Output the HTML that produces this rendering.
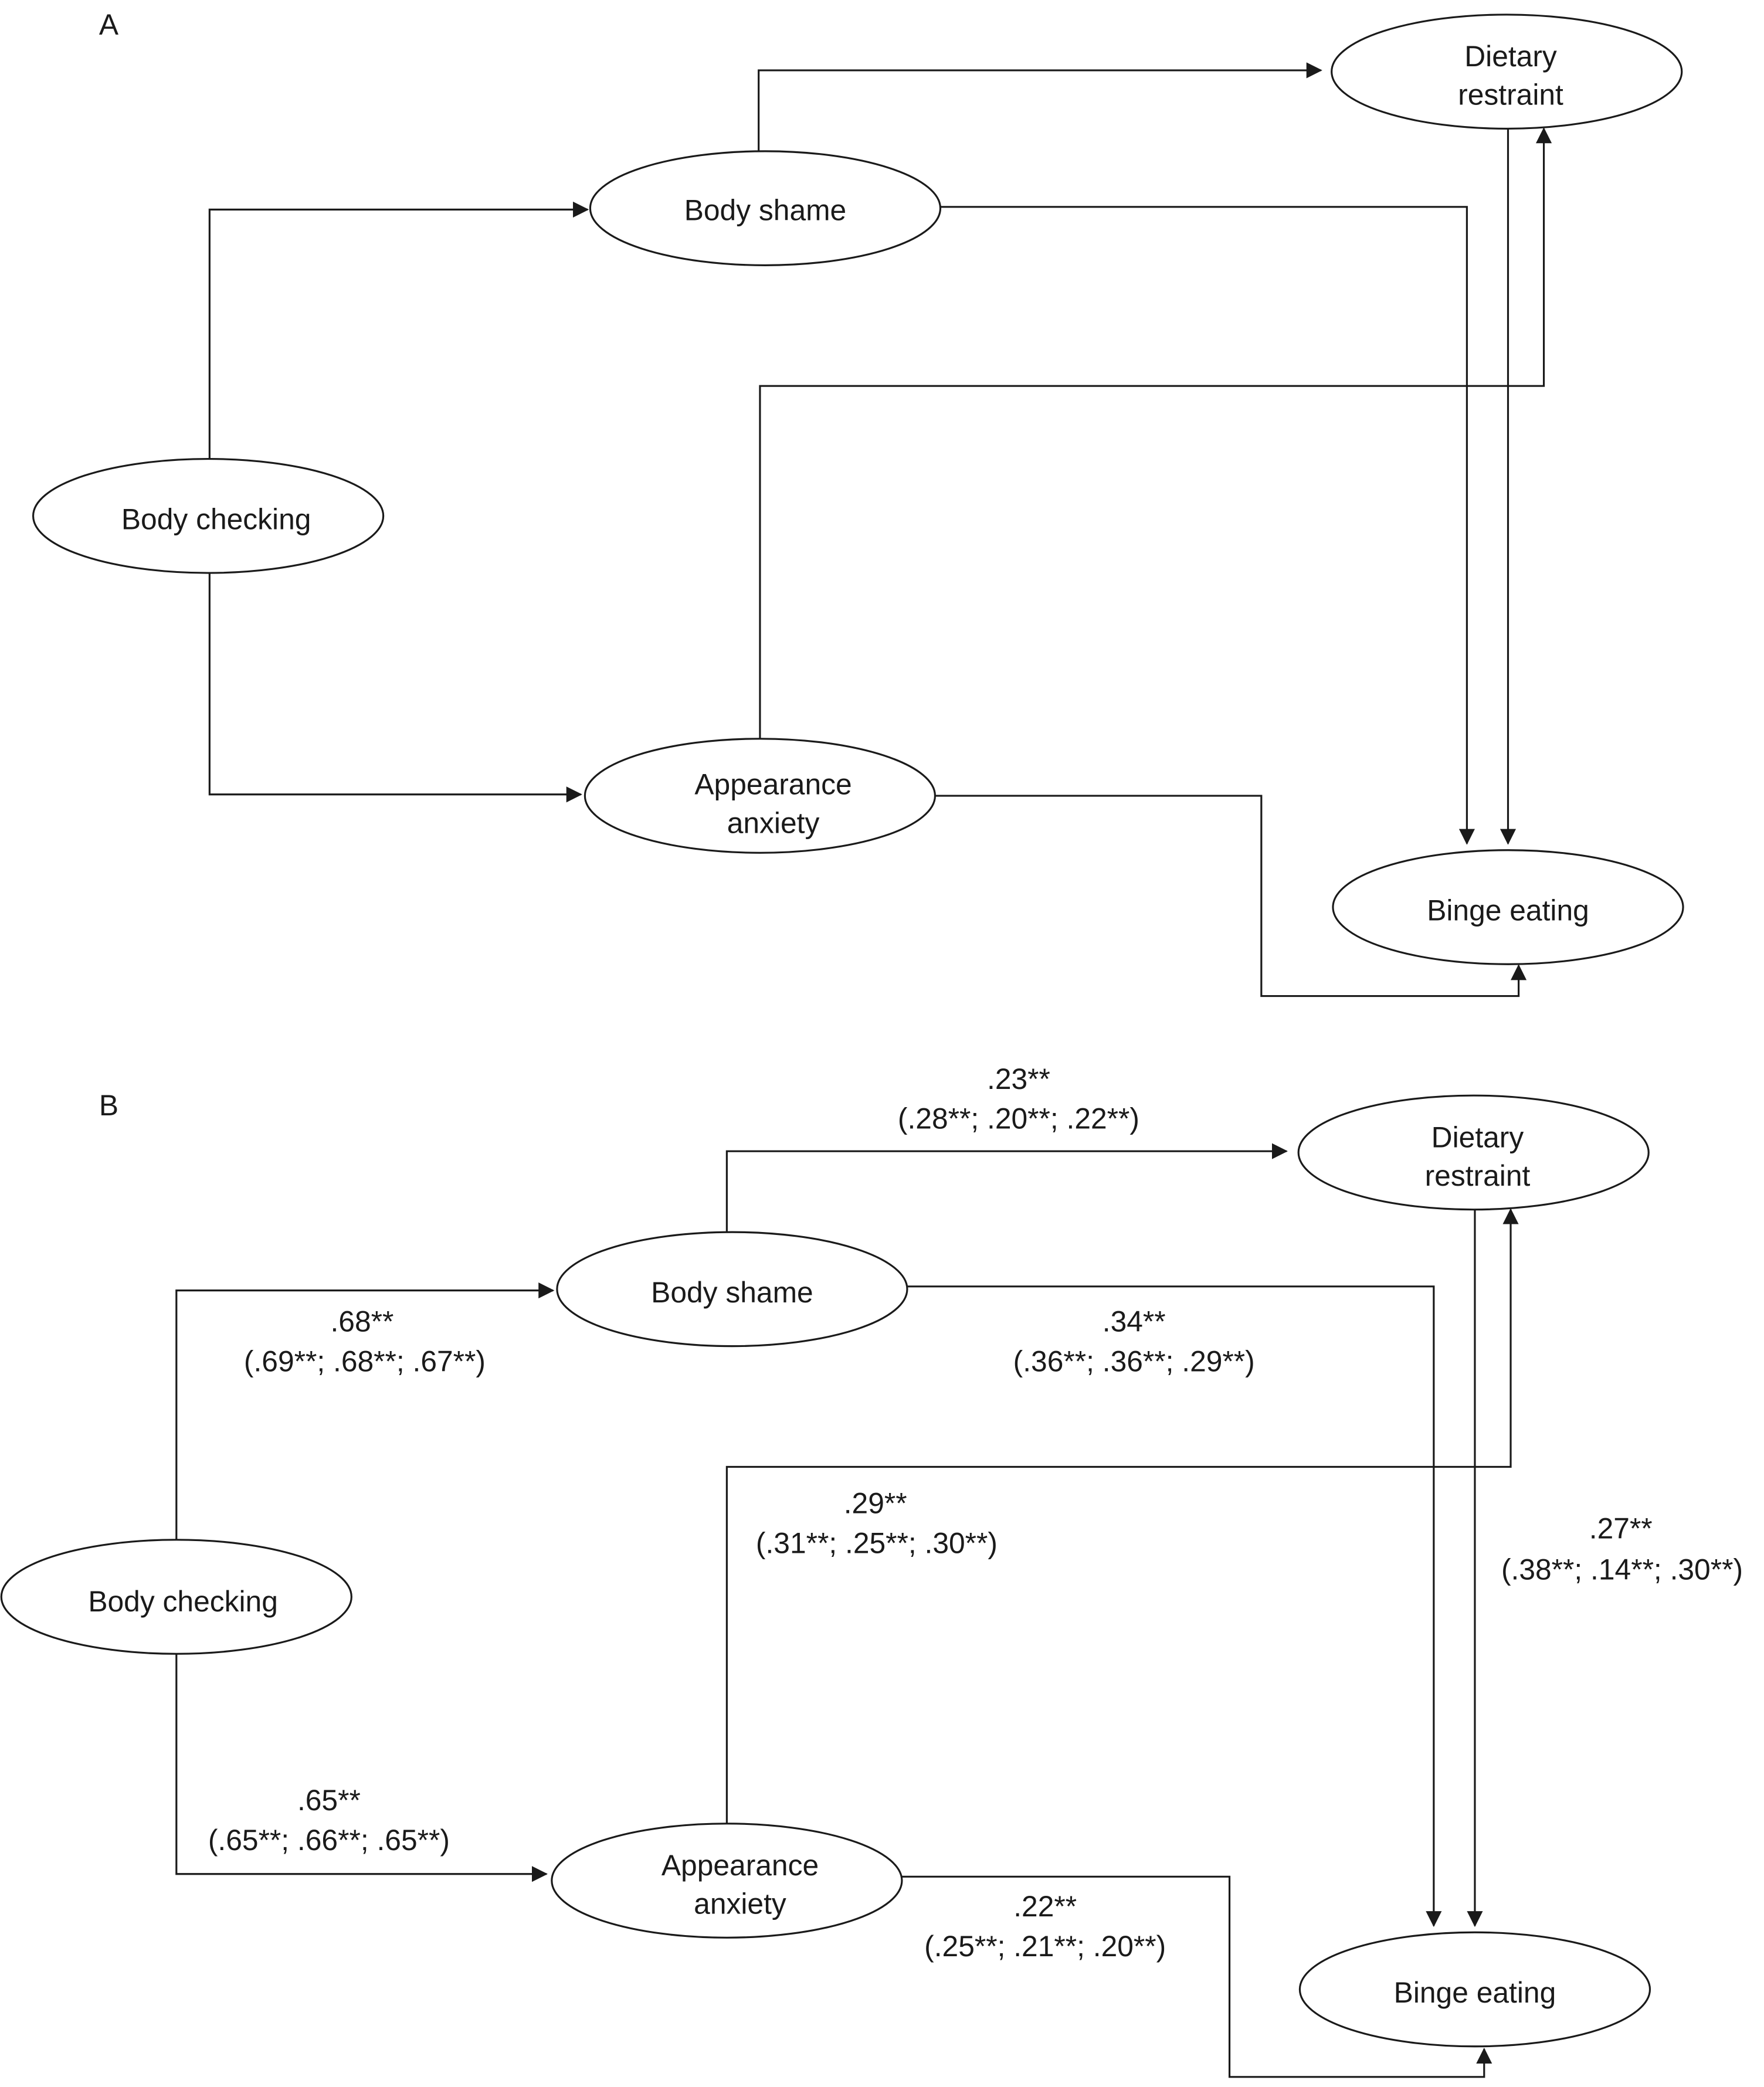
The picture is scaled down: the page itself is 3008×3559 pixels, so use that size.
<!DOCTYPE html>
<html><head><meta charset="utf-8"><style>
html,body{margin:0;padding:0;background:#fff;}
svg{display:block;}
text{font-family:"Liberation Sans",sans-serif;font-size:22px;fill:#1a1a1a;text-anchor:middle;}
</style></head><body>
<svg width="3008" height="3559" viewBox="0 0 1330 1573.6" xmlns="http://www.w3.org/2000/svg">
<defs><marker id="a" markerWidth="12" markerHeight="12" refX="11" refY="6" orient="auto" markerUnits="userSpaceOnUse"><path d="M0,0 L12,6 L0,12 z" fill="#1a1a1a"/></marker></defs>
<rect width="1330" height="1574" fill="#fff"/>
<g fill="none" stroke="#1a1a1a" stroke-width="1.4">
<!-- Panel A -->
<ellipse cx="1136" cy="54" rx="132" ry="43"/>
<ellipse cx="577" cy="157" rx="132" ry="43"/>
<ellipse cx="157" cy="389" rx="132" ry="43"/>
<ellipse cx="573" cy="600" rx="132" ry="43"/>
<ellipse cx="1137" cy="684" rx="132" ry="43"/>
<polyline points="572,114 572,53 996,53" marker-end="url(#a)"/>
<polyline points="158,346 158,158 443,158" marker-end="url(#a)"/>
<polyline points="158,432 158,599 438,599" marker-end="url(#a)"/>
<polyline points="709,156 1106,156 1106,636" marker-end="url(#a)"/>
<polyline points="1137,97 1137,636" marker-end="url(#a)"/>
<polyline points="573,557 573,291 1164,291 1164,97" marker-end="url(#a)"/>
<polyline points="705,600 951,600 951,751 1145,751 1145,728" marker-end="url(#a)"/>
<!-- Panel B -->
<ellipse cx="1111" cy="869" rx="132" ry="43"/>
<ellipse cx="552" cy="972" rx="132" ry="43"/>
<ellipse cx="133" cy="1204" rx="132" ry="43"/>
<ellipse cx="548" cy="1418" rx="132" ry="43"/>
<ellipse cx="1112" cy="1500" rx="132" ry="43"/>
<polyline points="548,929 548,868 970,868" marker-end="url(#a)"/>
<polyline points="133,1161 133,973 417,973" marker-end="url(#a)"/>
<polyline points="133,1247 133,1413 412,1413" marker-end="url(#a)"/>
<polyline points="684,970 1081,970 1081,1452" marker-end="url(#a)"/>
<polyline points="1112,912 1112,1452" marker-end="url(#a)"/>
<polyline points="548,1375 548,1106 1139,1106 1139,912" marker-end="url(#a)"/>
<polyline points="680,1415 927,1415 927,1566 1119,1566 1119,1545" marker-end="url(#a)"/>
</g>
<text x="82" y="26" font-size="24">A</text>
<text x="1139" y="50">Dietary</text><text x="1139" y="79">restraint</text>
<text x="577" y="166">Body shame</text>
<text x="163" y="399">Body checking</text>
<text x="583" y="599">Appearance</text><text x="583" y="628">anxiety</text>
<text x="1137" y="694">Binge eating</text>

<text x="82" y="841" font-size="24">B</text>
<text x="1114" y="865">Dietary</text><text x="1114" y="894">restraint</text>
<text x="552" y="982">Body shame</text>
<text x="138" y="1215">Body checking</text>
<text x="558" y="1414">Appearance</text><text x="558" y="1443">anxiety</text>
<text x="1112" y="1510">Binge eating</text>

<text x="768" y="821">.23**</text><text x="768" y="851">(.28**; .20**; .22**)</text>
<text x="273" y="1004">.68**</text><text x="275" y="1034">(.69**; .68**; .67**)</text>
<text x="855" y="1004">.34**</text><text x="855" y="1034">(.36**; .36**; .29**)</text>
<text x="660" y="1141">.29**</text><text x="661" y="1171">(.31**; .25**; .30**)</text>
<text x="1222" y="1160">.27**</text><text x="1223" y="1191">(.38**; .14**; .30**)</text>
<text x="248" y="1365">.65**</text><text x="248" y="1395">(.65**; .66**; .65**)</text>
<text x="788" y="1445">.22**</text><text x="788" y="1475">(.25**; .21**; .20**)</text>
</svg>
</body></html>
